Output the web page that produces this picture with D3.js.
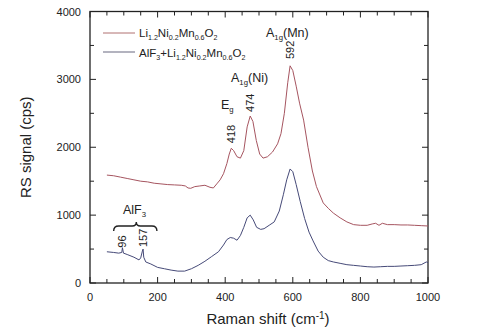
<!DOCTYPE html>
<html>
<head>
<meta charset="utf-8">
<script src="https://cdn.jsdelivr.net/npm/d3@7"></script>
<style>
  body { margin: 0; background: #fff; }
  svg { font-family: "Liberation Sans", Arial, sans-serif; }
</style>
</head>
<body>
<div id="chart"></div>
<script>
// ---- data ----
const redShift = [50,70,90,110,130,150,170,190,210,230,250,270,282,290,298,310,325,340,355,365,375,385,395,405,412,418,425,435,445,455,465,474,482,492,502,512,525,540,555,565,575,585,592,600,610,620,632,645,658,670,690,705,720,740,760,780,800,820,835,845,855,865,880,900,920,940,960,980,1000];
const redSignal = [1590,1580,1560,1540,1520,1500,1490,1470,1460,1450,1445,1440,1430,1400,1395,1420,1430,1440,1410,1400,1460,1520,1610,1760,1900,1985,1950,1860,1840,1950,2300,2460,2380,2100,1900,1840,1860,1930,2050,2200,2500,2950,3200,3130,2900,2650,2400,2000,1650,1420,1180,1100,1030,960,900,860,850,850,870,880,850,880,860,860,855,855,850,845,840];

const blueShift = [50,70,85,94,96,99,110,130,145,150,155,157,159,165,180,200,220,240,260,280,300,320,340,360,380,395,405,415,425,435,445,455,465,474,483,493,505,515,530,545,560,572,582,592,600,610,622,635,648,660,675,690,705,720,740,760,780,800,820,840,860,880,900,920,940,960,980,995,1000];
const blueSignal = [460,450,440,450,520,440,420,380,340,370,470,500,380,310,280,230,210,190,175,175,210,260,320,390,460,560,640,670,660,630,700,820,960,1000,930,820,790,800,850,900,1060,1300,1520,1680,1640,1450,1200,950,750,620,470,380,330,310,290,270,260,250,240,235,240,245,245,250,255,260,270,310,300];

const xTicks = [0,200,400,600,800,1000];
const yTicks = [0,1000,2000,3000,4000];

// peak labels: wavenumber and the signal level where the label starts
const peakNames = ["592","474","418","96","157"];
const peakPos = [592,474,418,96,157];
const peakBase = [3300,2520,2060,520,530];

const W = 490, H = 335;
const m = {left: 90, right: 62, top: 11.5, bottom: 52};

const svg = d3.select('#chart').append('svg')
    .attr('width', W).attr('height', H);

const x = d3.scaleLinear().domain([0, 1000]).range([m.left, W - m.right]);
const y = d3.scaleLinear().domain([0, 4000]).range([H - m.bottom, m.top]);

const x0 = x(0), x1 = x(1000), y0 = y(0), y1 = y(4000);

// frame ticks (inside)
const g = svg.append('g').attr('stroke', '#222').attr('stroke-width', 1);
d3.range(0, 1001, 50).forEach(v => {
    const len = v % 200 === 0 ? 6 : 4;
    g.append('line').attr('x1', x(v)).attr('x2', x(v)).attr('y1', y0).attr('y2', y0 - len);
    g.append('line').attr('x1', x(v)).attr('x2', x(v)).attr('y1', y1).attr('y2', y1 + len);
});
d3.range(0, 4001, 500).forEach(v => {
    const len = v % 1000 === 0 ? 6 : 4;
    g.append('line').attr('x1', x0).attr('x2', x0 + len).attr('y1', y(v)).attr('y2', y(v));
    g.append('line').attr('x1', x1).attr('x2', x1 - len).attr('y1', y(v)).attr('y2', y(v));
});
svg.append('rect').attr('x', x0).attr('y', y1).attr('width', x1 - x0).attr('height', y0 - y1)
    .attr('fill', 'none').attr('stroke', '#222').attr('stroke-width', 1.3);

// tick labels
svg.selectAll('.xl').data(xTicks).enter().append('text')
    .attr('x', d => x(d)).attr('y', y0 + 18)
    .attr('text-anchor', 'middle').attr('font-size', 11).attr('fill', '#222')
    .text(d => d);
svg.selectAll('.yl').data(yTicks).enter().append('text')
    .attr('x', x0 - 9).attr('y', d => y(d) + 4)
    .attr('text-anchor', 'end').attr('font-size', 11).attr('fill', '#222')
    .text(d => d);

// axis titles
svg.append('text').attr('transform', `translate(31,${(y0 + y1) / 2}) rotate(-90)`)
    .attr('text-anchor', 'middle').attr('font-size', 15).attr('fill', '#222')
    .text('RS signal (cps)');
const xt = svg.append('text').attr('x', 268).attr('y', 324)
    .attr('text-anchor', 'middle').attr('font-size', 15).attr('fill', '#222');
xt.append('tspan').text('Raman shift (cm');
xt.append('tspan').attr('font-size', 10).attr('dy', -5).text('-1');
xt.append('tspan').attr('dy', 5).text(')');

// spectra
const line = d3.line().x(d => x(d[0])).y(d => y(d[1]));
svg.append('path').datum(d3.zip(redShift, redSignal))
    .attr('d', line).attr('fill', 'none').attr('stroke', '#a65560').attr('stroke-width', 1);
svg.append('path').datum(d3.zip(blueShift, blueSignal))
    .attr('d', line).attr('fill', 'none').attr('stroke', '#464a78').attr('stroke-width', 1);

// rich text helper: parts = [text, sub, text, sub, ...]
function rich(xp, yp, parts, size) {
    const t = svg.append('text').attr('x', xp).attr('y', yp)
        .attr('font-size', size).attr('fill', '#222');
    let down = false;
    parts.forEach((p, i) => {
        if (p === '') return;
        const sub = i % 2 === 1;
        const ts = t.append('tspan').text(p);
        if (sub) { ts.attr('font-size', size * 0.62); if (!down) { ts.attr('dy', 3); down = true; } }
        else if (down) { ts.attr('dy', -3); down = false; }
    });
    return t;
}

// legend
svg.append('line').attr('x1', 103).attr('x2', 135).attr('y1', 33).attr('y2', 33)
    .attr('stroke', '#b07070').attr('stroke-width', 1);
svg.append('line').attr('x1', 103).attr('x2', 135).attr('y1', 52).attr('y2', 52)
    .attr('stroke', '#9a9aaa').attr('stroke-width', 1.5);
rich(139, 37, ['Li', '1.2', 'Ni', '0.2', 'Mn', '0.6', 'O', '2'], 11.5);
rich(139, 57, ['AlF', '3', '+Li', '1.2', 'Ni', '0.2', 'Mn', '0.6', 'O', '2'], 11.5);

// band annotations
rich(266, 37, ['A', '1g', '(Mn)'], 12.5);
rich(231, 82, ['A', '1g', '(Ni)'], 12.5);
rich(221, 109, ['E', 'g'], 12.5);
rich(123, 214, ['AlF', '3'], 12.5);

peakNames.forEach((n, i) => {
    svg.append('text')
        .attr('transform', `translate(${x(peakPos[i]) + 4},${y(peakBase[i])}) rotate(-90)`)
        .attr('font-size', 11).attr('fill', '#222').text(n);
});

// brace over the AlF3 peaks
const bx0 = x(70), bx1 = x(198), bm = x(137), by = 226;
svg.append('path')
    .attr('d', `M${bx0},${by + 5} Q${bx0},${by} ${bx0 + 5},${by} L${bm - 4},${by} Q${bm},${by} ${bm},${by - 4}
                Q${bm},${by} ${bm + 4},${by} L${bx1 - 5},${by} Q${bx1},${by} ${bx1},${by + 5}`)
    .attr('fill', 'none').attr('stroke', '#222').attr('stroke-width', 1.4);
</script>
</body>
</html>
